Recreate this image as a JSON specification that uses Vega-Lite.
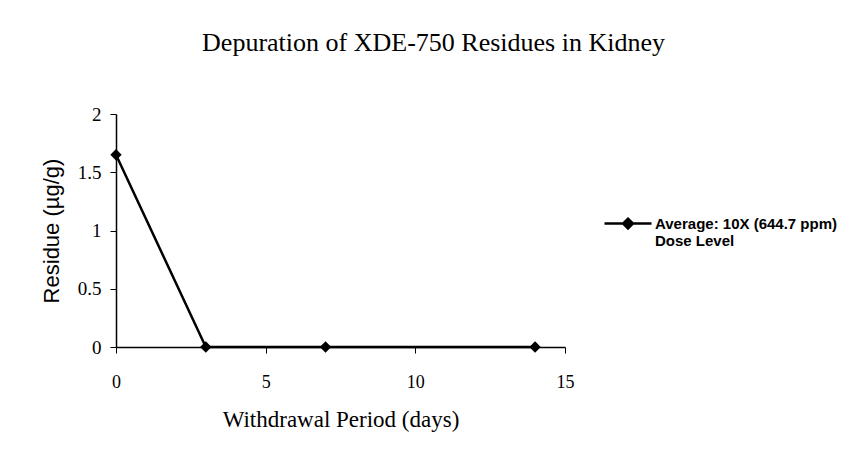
{
  "$schema": "https://vega.github.io/schema/vega-lite/v6.json",
  "autosize": {"type": "none"},
  "padding": {"left": 116, "top": 114, "right": 283, "bottom": 111},
  "width": 449,
  "height": 233,
  "background": "white",
  "title": {
    "text": "Depuration of XDE-750 Residues in Kidney",
    "font": "Liberation Serif",
    "fontSize": 26,
    "fontWeight": "normal",
    "color": "black",
    "anchor": "middle",
    "frame": "group",
    "dx": 93,
    "offset": 49
  },
  "data": {
    "values": [
      {"day": 0, "residue": 1.65, "series": "Average: 10X (644.7 ppm) Dose Level"},
      {"day": 3, "residue": 0.0, "series": "Average: 10X (644.7 ppm) Dose Level"},
      {"day": 7, "residue": 0.0, "series": "Average: 10X (644.7 ppm) Dose Level"},
      {"day": 14, "residue": 0.0, "series": "Average: 10X (644.7 ppm) Dose Level"}
    ]
  },
  "mark": {
    "type": "line",
    "strokeWidth": 2.5,
    "point": {"shape": "diamond", "size": 130, "filled": true, "color": "black"}
  },
  "encoding": {
    "x": {
      "field": "day",
      "type": "quantitative",
      "scale": {"domain": [0, 15], "nice": false},
      "axis": {
        "title": "Withdrawal Period (days)",
        "values": [0, 5, 10, 15],
        "grid": false,
        "labelFlush": false,
        "domainColor": "black",
        "domainWidth": 1.5,
        "tickColor": "black",
        "tickSize": 6,
        "labelFont": "Liberation Serif",
        "labelFontSize": 18,
        "labelColor": "black",
        "labelPadding": 20,
        "titleFont": "Liberation Serif",
        "titleFontSize": 23,
        "titleFontWeight": "normal",
        "titleColor": "black",
        "titlePadding": 17
      }
    },
    "y": {
      "field": "residue",
      "type": "quantitative",
      "scale": {"domain": [0, 2], "nice": false},
      "axis": {
        "title": "Residue (µg/g)",
        "values": [0, 0.5, 1, 1.5, 2],
        "format": "~g",
        "grid": false,
        "domainColor": "black",
        "domainWidth": 1.5,
        "tickColor": "black",
        "tickSize": 6,
        "labelFont": "Liberation Serif",
        "labelFontSize": 19,
        "labelColor": "black",
        "labelPadding": 9,
        "titleFont": "Liberation Sans",
        "titleFontSize": 22,
        "titleFontWeight": "normal",
        "titleColor": "black",
        "titlePadding": 14
      }
    },
    "color": {
      "field": "series",
      "type": "nominal",
      "scale": {"range": ["black"]},
      "legend": {
        "title": null,
        "orient": "none",
        "legendX": 487,
        "legendY": 90,
        "padding": 0,
        "symbolType": "M-1,-0.23H1M0,-0.44L0.21,-0.23L0,-0.02L-0.21,-0.23Z",
        "symbolSize": 2209,
        "symbolStrokeWidth": 2.5,
        "symbolFillColor": "black",
        "symbolStrokeColor": "black",
        "symbolOffset": 0,
        "labelFont": "Liberation Sans",
        "labelFontSize": 15,
        "labelFontWeight": "bold",
        "labelColor": "black",
        "labelOffset": 2,
        "labelBaseline": "alphabetic",
        "labelLimit": 300,
        "labelExpr": "['Average: 10X (644.7 ppm)', 'Dose Level']"
      }
    }
  },
  "config": {"view": {"stroke": null}}
}
